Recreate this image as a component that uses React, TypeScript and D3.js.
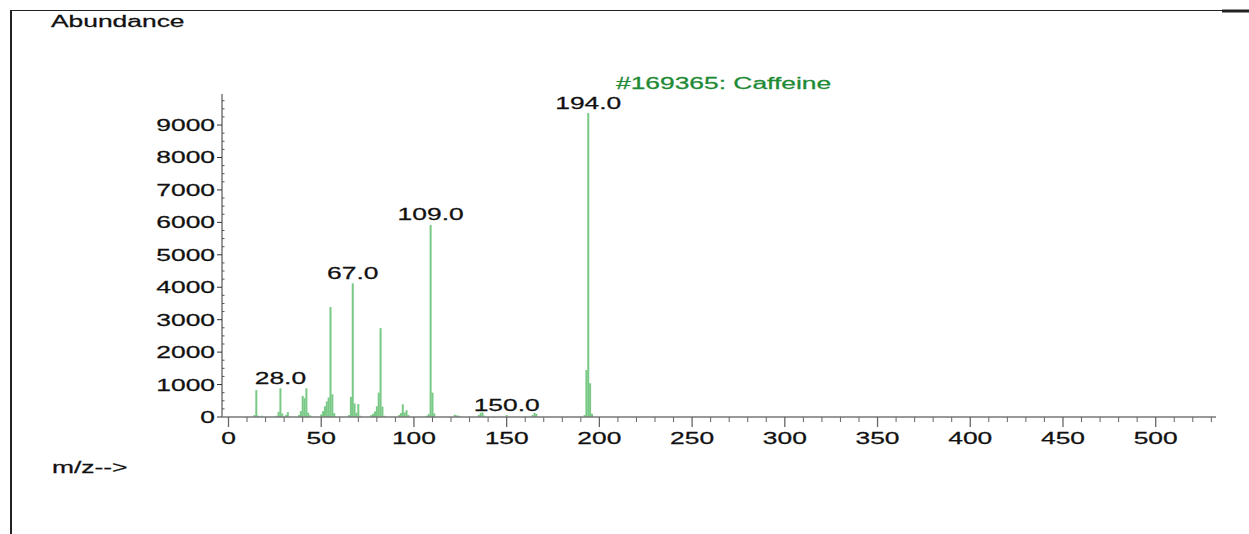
import React, { useEffect } from "react";
import * as d3 from "d3";

// m/z peaks and abundance
const mzValues = [
  14, 15, 16, 18, 26, 27, 28, 29, 31, 32, 38, 39, 40, 41, 42, 43, 44, 50, 51, 52, 53, 54, 55, 56, 57,
  65, 66, 67, 68, 69, 70, 71, 77, 78, 79, 80, 81, 82, 83, 84, 92, 93, 94, 95, 96, 97,
  107, 108, 109, 110, 111, 122, 123, 124, 135, 136, 137, 138, 150, 164, 165, 166,
  192, 193, 194, 195, 196,
];
const abundances = [
  60, 830, 40, 40, 40, 160, 885, 110, 60, 150, 60, 180, 650, 580, 885, 130, 50, 80, 180, 330, 480, 600, 3390, 700, 120,
  60, 620, 4120, 420, 130, 400, 40, 60, 100, 170, 330, 750, 2740, 320, 40, 60, 120, 390, 140, 210, 60,
  40, 90, 5920, 750, 110, 70, 50, 40, 60, 130, 140, 40, 60, 60, 130, 100,
  60, 1450, 9370, 1040, 100,
];
const labelledPeaks = [28, 67, 109, 150, 194];
const xTickValues = [0, 50, 100, 150, 200, 250, 300, 350, 400, 450, 500];
const yTickValues = [0, 1000, 2000, 3000, 4000, 5000, 6000, 7000, 8000, 9000];
const libraryTitle = "#169365: Caffeine";

const FONT = "'Liberation Sans', Arial, sans-serif";
const STRETCH = 1.65;

// the instrument printout uses a wide sans, so stretch text horizontally
function WideText({ x, y, anchor = "start", fill = "#111", size = 16, children }: any) {
  return (
    <text
      transform={`translate(${x},${y}) scale(${STRETCH},1)`}
      textAnchor={anchor}
      fontFamily={FONT}
      fontSize={size}
      fill={fill}
      stroke={fill}
      strokeWidth={0.25}
    >
      {children}
    </text>
  );
}

export default function App() {
  useEffect(() => {
    document.body.style.margin = "0";
  }, []);

  const width = 1249;
  const height = 534;

  const x = d3.scaleLinear().domain([0, 500]).range([228.5, 1155.7]);
  const y = d3.scaleLinear().domain([0, 10000]).range([417, 92.6]);

  const axisY = y(0);
  const axisX = 222;
  const xEnd = x(532.5);

  const xMinor = d3.range(10, 531, 10).filter((v) => v % 50 !== 0);
  const yMinor = d3.range(250, 9951, 250).filter((v) => v % 1000 !== 0);

  const peaks = mzValues.map((mz, i) => ({ mz, ab: abundances[i] }));

  return (
    <svg width={width} height={height} style={{ display: "block", background: "#fff" }}>
      {/* frame */}
      <line x1={10} y1={10.5} x2={1222} y2={10.5} stroke="#222" strokeWidth={1} />
      <line x1={1222} y1={11} x2={1249} y2={11} stroke="#222" strokeWidth={3} />
      <line x1={11} y1={10} x2={11} y2={534} stroke="#222" strokeWidth={2} />

      <WideText x={51} y={27}>Abundance</WideText>
      <WideText x={52} y={473}>m/z--&gt;</WideText>

      {/* peaks */}
      <g>
        {peaks.map((p) => (
          <rect
            key={p.mz}
            x={x(p.mz) - 1}
            y={y(p.ab)}
            width={2}
            height={axisY - y(p.ab)}
            fill="#78c985"
          />
        ))}
      </g>

      {/* peak labels */}
      {peaks
        .filter((p) => labelledPeaks.includes(p.mz))
        .map((p) => (
          <WideText key={p.mz} x={x(p.mz)} y={y(p.ab) - 4.5} anchor="middle">
            {p.mz.toFixed(1)}
          </WideText>
        ))}

      <WideText x={616} y={88.5} fill="#1e8a34">{libraryTitle}</WideText>

      {/* y axis */}
      <line x1={axisX} y1={axisY} x2={axisX} y2={94} stroke="#333" strokeWidth={1} />
      {yTickValues.map((v) => (
        <g key={v}>
          <line x1={axisX - 5} y1={y(v)} x2={axisX} y2={y(v)} stroke="#333" />
          <WideText x={215} y={y(v) + 6} anchor="end">{v}</WideText>
        </g>
      ))}
      {yMinor.map((v) => (
        <line key={v} x1={axisX} y1={y(v)} x2={axisX + 2.5} y2={y(v)} stroke="#555" />
      ))}

      {/* x axis */}
      <line x1={axisX} y1={axisY} x2={xEnd} y2={axisY} stroke="#777" strokeWidth={1.5} />
      {xTickValues.map((v) => (
        <g key={v}>
          <line x1={x(v)} y1={axisY} x2={x(v)} y2={axisY + 10} stroke="#666" strokeWidth={1.3} />
          <WideText x={x(v)} y={axisY + 27} anchor="middle">{v}</WideText>
        </g>
      ))}
      {xMinor.map((v) => (
        <line key={v} x1={x(v)} y1={axisY} x2={x(v)} y2={axisY + 5} stroke="#666" />
      ))}
    </svg>
  );
}
